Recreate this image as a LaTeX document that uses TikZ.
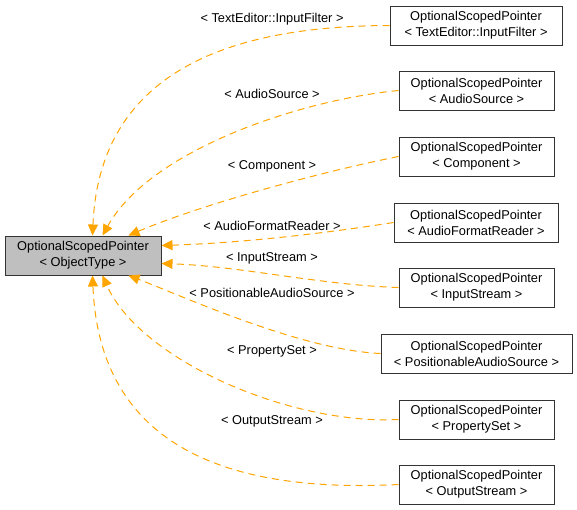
\documentclass[tikz,border=0pt]{standalone}
\usepackage{fontspec}
\setmainfont{Liberation Sans}
\usetikzlibrary{arrows.meta}
\definecolor{tmplorange}{HTML}{FFA500}
\begin{document}
\begin{tikzpicture}[x=1pt,y=-1pt,
  cls/.style={draw=black!80,fill=white,line width=1pt,align=center,
    minimum height=39pt,inner sep=0pt,font=\fontsize{12.8}{16}\selectfont},
  tmpl/.style={draw=tmplorange,line width=1pt,dash pattern=on 7pt off 5pt,
    -{Triangle[length=11pt,width=10pt,fill=tmplorange]}},
  lbl/.style={font=\fontsize{12.8}{16}\selectfont}]
  \useasboundingbox (0,0) rectangle (577,509);
  % base template
  \node[cls,fill=black!25,minimum width=156pt] (base) at (83,255.5)
    {OptionalScopedPointer\\< ObjectType >};
  % instances
  \node[cls,minimum width=172pt] (inf) at (476,25.5)
    {OptionalScopedPointer\\< TextEditor::InputFilter >};
  \node[cls,minimum width=155pt] (asrc) at (476.5,90.5)
    {OptionalScopedPointer\\< AudioSource >};
  \node[cls,minimum width=155pt] (comp) at (476.5,156.5)
    {OptionalScopedPointer\\< Component >};
  \node[cls,minimum width=164pt] (afr) at (476,222.5)
    {OptionalScopedPointer\\< AudioFormatReader >};
  \node[cls,minimum width=155pt] (istr) at (476.5,287.5)
    {OptionalScopedPointer\\< InputStream >};
  \node[cls,minimum width=191pt] (pas) at (476.5,353.5)
    {OptionalScopedPointer\\< PositionableAudioSource >};
  \node[cls,minimum width=155pt] (pset) at (476.5,419.5)
    {OptionalScopedPointer\\< PropertySet >};
  \node[cls,minimum width=155pt] (ostr) at (476.5,484.5)
    {OptionalScopedPointer\\< OutputStream >};
  % template arguments
  \draw[tmpl] (inf.west) .. controls (250,26) and (100,60) .. ([xshift=88pt]base.north west);
  \draw[tmpl] (asrc.west) .. controls (300,100) and (150,150) .. ([xshift=98pt]base.north west);
  \draw[tmpl] (comp.west) .. controls (320,172) and (200,205) .. ([xshift=124pt]base.north west);
  \draw[tmpl] (afr.west) .. controls (320,234) and (240,243) .. ([yshift=-10pt]base.north east);
  \draw[tmpl] (istr.west) .. controls (320,285) and (240,266) .. ([yshift=12pt]base.south east);
  \draw[tmpl] (pas.west) .. controls (300,350) and (180,295) .. ([xshift=124pt]base.south west);
  \draw[tmpl] (pset.west) .. controls (290,425) and (140,360) .. ([xshift=98pt]base.south west);
  \draw[tmpl] (ostr.west) .. controls (250,492) and (100,460) .. ([xshift=88pt]base.south west);
  \node[lbl] (linf) at (272,19) {< TextEditor::InputFilter >};
  \node[lbl] (lasrc) at (272,94) {< AudioSource >};
  \node[lbl] (lcomp) at (272,166) {< Component >};
  \node[lbl] (lafr) at (272,226) {< AudioFormatReader >};
  \node[lbl] (listr) at (272,258) {< InputStream >};
  \node[lbl] (lpas) at (272,293) {< PositionableAudioSource >};
  \node[lbl] (lpset) at (272,351) {< PropertySet >};
  \node[lbl] (lostr) at (272,421) {< OutputStream >};
\end{tikzpicture}
\end{document}
